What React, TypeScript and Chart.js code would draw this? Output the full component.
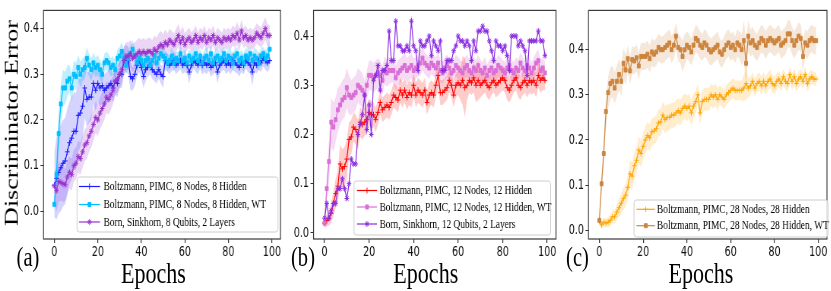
import React, { useEffect, useRef } from "react";
import { Chart, registerables } from "chart.js";
import { drawPoint } from "chart.js/helpers";

Chart.register(...registerables);

// ---------- data ----------
const EPOCHS = Array.from({ length: 100 }, (_, i) => i);
const X_TICKS = [0, 20, 40, 60, 80, 100];
const Y_TICKS = [0, 0.1, 0.2, 0.3, 0.4];

// Panel (a)
const BOLTZ8 = [
  0.057, 0.072, 0.085, 0.095, 0.105, 0.11, 0.13, 0.15, 0.16, 0.175,
  0.175, 0.21, 0.215, 0.23, 0.27, 0.245, 0.25, 0.25, 0.28, 0.265,
  0.28, 0.27, 0.275, 0.265, 0.27, 0.275, 0.28, 0.27, 0.285, 0.28,
  0.3, 0.3, 0.33, 0.335, 0.33, 0.295, 0.29, 0.3, 0.32, 0.33,
  0.315, 0.295, 0.31, 0.315, 0.32, 0.31, 0.305, 0.3, 0.31, 0.3,
  0.295, 0.33, 0.325, 0.32, 0.325, 0.33, 0.32, 0.325, 0.33, 0.32,
  0.325, 0.32, 0.305, 0.32, 0.33, 0.325, 0.32, 0.33, 0.32, 0.325,
  0.32, 0.325, 0.315, 0.32, 0.325, 0.305, 0.32, 0.325, 0.33, 0.32,
  0.325, 0.32, 0.33, 0.325, 0.32, 0.315, 0.325, 0.32, 0.33, 0.325,
  0.32, 0.305, 0.325, 0.32, 0.33, 0.325, 0.335, 0.33, 0.325, 0.33,
];
const BOLTZ8_STD = [
  0.07, 0.09, 0.09, 0.095, 0.095, 0.095, 0.095, 0.09, 0.09, 0.085,
  0.085, 0.08, 0.075, 0.07, 0.065, 0.06, 0.055, 0.05, 0.045, 0.045,
  0.04, 0.04, 0.04, 0.035, 0.035, 0.035, 0.035, 0.03, 0.03, 0.03,
  0.03, 0.03, 0.03, 0.03, 0.03, 0.03, 0.025, 0.025, 0.025, 0.025,
  0.025, 0.025, 0.025, 0.02, 0.02, 0.02, 0.02, 0.02, 0.02, 0.02,
  0.025, 0.02, 0.02, 0.02, 0.018, 0.02, 0.02, 0.018, 0.02, 0.02,
  0.02, 0.02, 0.025, 0.02, 0.018, 0.02, 0.02, 0.018, 0.02, 0.02,
  0.02, 0.018, 0.02, 0.02, 0.02, 0.025, 0.02, 0.018, 0.02, 0.02,
  0.018, 0.02, 0.02, 0.02, 0.018, 0.02, 0.02, 0.02, 0.018, 0.02,
  0.02, 0.03, 0.02, 0.018, 0.02, 0.02, 0.018, 0.02, 0.02, 0.018,
];
const BOLTZ8_WT = [
  0.015, 0.08, 0.17, 0.235, 0.27, 0.27, 0.285, 0.29, 0.27, 0.3,
  0.295, 0.315, 0.3, 0.31, 0.315, 0.335, 0.32, 0.31, 0.325, 0.315,
  0.32, 0.31, 0.3, 0.325, 0.33, 0.325, 0.315, 0.32, 0.31, 0.335,
  0.34, 0.35, 0.335, 0.32, 0.335, 0.345, 0.355, 0.34, 0.325, 0.335,
  0.33, 0.32, 0.33, 0.335, 0.32, 0.33, 0.34, 0.325, 0.335, 0.345,
  0.34, 0.335, 0.325, 0.33, 0.34, 0.325, 0.335, 0.33, 0.345, 0.33,
  0.335, 0.325, 0.34, 0.33, 0.335, 0.345, 0.33, 0.34, 0.325, 0.335,
  0.34, 0.33, 0.345, 0.325, 0.335, 0.34, 0.33, 0.335, 0.345, 0.33,
  0.34, 0.335, 0.325, 0.34, 0.345, 0.33, 0.335, 0.325, 0.34, 0.335,
  0.345, 0.33, 0.34, 0.335, 0.325, 0.34, 0.345, 0.335, 0.34, 0.355,
];
const BOLTZ8_WT_STD = [
  0.02, 0.035, 0.045, 0.045, 0.04, 0.035, 0.035, 0.03, 0.03, 0.03,
  0.03, 0.028, 0.028, 0.025, 0.025, 0.025, 0.025, 0.025, 0.022, 0.022,
  0.022, 0.022, 0.022, 0.02, 0.02, 0.02, 0.02, 0.02, 0.02, 0.02,
  0.02, 0.02, 0.02, 0.02, 0.02, 0.02, 0.02, 0.018, 0.018, 0.018,
  0.018, 0.018, 0.02, 0.018, 0.015, 0.018, 0.018, 0.02, 0.018, 0.018,
  0.018, 0.015, 0.018, 0.018, 0.02, 0.018, 0.015, 0.018, 0.018, 0.02,
  0.018, 0.018, 0.015, 0.018, 0.02, 0.018, 0.018, 0.015, 0.018, 0.018,
  0.02, 0.018, 0.018, 0.015, 0.018, 0.018, 0.02, 0.018, 0.015, 0.018,
  0.018, 0.02, 0.018, 0.018, 0.015, 0.018, 0.018, 0.02, 0.018, 0.018,
  0.015, 0.018, 0.018, 0.02, 0.018, 0.018, 0.015, 0.018, 0.018, 0.02,
];
const BORN8 = [
  0.055, 0.045, 0.065, 0.063, 0.06, 0.058, 0.075, 0.085, 0.08, 0.1,
  0.105, 0.12, 0.115, 0.13, 0.145, 0.15, 0.165, 0.175, 0.19, 0.205,
  0.2, 0.215, 0.225, 0.235, 0.25, 0.245, 0.255, 0.265, 0.285, 0.29,
  0.3, 0.31, 0.33, 0.34, 0.34, 0.345, 0.335, 0.34, 0.345, 0.35,
  0.345, 0.35, 0.345, 0.35, 0.35, 0.345, 0.355, 0.35, 0.36, 0.365,
  0.36, 0.37, 0.365, 0.375, 0.37, 0.365, 0.375, 0.385, 0.37, 0.38,
  0.365, 0.375, 0.38, 0.37, 0.375, 0.385, 0.37, 0.38, 0.375, 0.385,
  0.37, 0.38, 0.375, 0.385, 0.37, 0.38, 0.375, 0.37, 0.38, 0.375,
  0.38, 0.375, 0.385, 0.38, 0.39, 0.375, 0.395, 0.38, 0.385, 0.375,
  0.38, 0.375, 0.38, 0.39, 0.385, 0.38, 0.39, 0.4, 0.385, 0.385,
];
const BORN8_STD = [
  0.035, 0.045, 0.045, 0.04, 0.04, 0.035, 0.035, 0.035, 0.035, 0.035,
  0.035, 0.035, 0.035, 0.035, 0.035, 0.035, 0.035, 0.035, 0.035, 0.035,
  0.035, 0.035, 0.035, 0.035, 0.035, 0.033, 0.033, 0.03, 0.03, 0.03,
  0.03, 0.03, 0.03, 0.03, 0.03, 0.03, 0.03, 0.03, 0.03, 0.03,
  0.03, 0.03, 0.03, 0.03, 0.03, 0.03, 0.03, 0.03, 0.03, 0.03,
  0.028, 0.028, 0.025, 0.025, 0.025, 0.025, 0.025, 0.025, 0.025, 0.025,
  0.025, 0.022, 0.022, 0.022, 0.022, 0.022, 0.022, 0.022, 0.022, 0.022,
  0.022, 0.022, 0.022, 0.022, 0.022, 0.022, 0.022, 0.022, 0.022, 0.022,
  0.022, 0.022, 0.022, 0.022, 0.025, 0.025, 0.025, 0.022, 0.022, 0.022,
  0.022, 0.022, 0.022, 0.022, 0.022, 0.022, 0.025, 0.025, 0.025, 0.022,
];

// Panel (b)
const BOLTZ12 = [
  0.02, 0.025, 0.03, 0.04, 0.06, 0.08, 0.095, 0.14, 0.13, 0.135,
  0.15, 0.19, 0.195, 0.215, 0.21, 0.2, 0.225, 0.22, 0.225, 0.23,
  0.245, 0.24, 0.24, 0.23, 0.245, 0.265, 0.25, 0.255, 0.26, 0.255,
  0.265, 0.28, 0.275, 0.27, 0.29, 0.28, 0.29, 0.275, 0.285, 0.28,
  0.3, 0.28, 0.29, 0.285, 0.28, 0.29, 0.265, 0.28, 0.285, 0.28,
  0.3, 0.32, 0.285, 0.285, 0.29, 0.295, 0.31, 0.3, 0.28, 0.3,
  0.305, 0.3, 0.31, 0.295, 0.3, 0.31, 0.305, 0.315, 0.3, 0.31,
  0.3, 0.305, 0.31, 0.3, 0.295, 0.305, 0.31, 0.3, 0.305, 0.31,
  0.315, 0.31, 0.295, 0.29, 0.3, 0.31, 0.315, 0.3, 0.295, 0.305,
  0.31, 0.3, 0.31, 0.305, 0.31, 0.3, 0.32, 0.31, 0.315, 0.31,
];
const BOLTZ12_STD = [
  0.01, 0.012, 0.015, 0.02, 0.025, 0.03, 0.035, 0.04, 0.04, 0.04,
  0.04, 0.035, 0.035, 0.03, 0.03, 0.03, 0.03, 0.03, 0.028, 0.028,
  0.028, 0.028, 0.025, 0.025, 0.025, 0.025, 0.025, 0.025, 0.025, 0.025,
  0.025, 0.025, 0.025, 0.025, 0.025, 0.025, 0.025, 0.025, 0.025, 0.025,
  0.025, 0.025, 0.025, 0.025, 0.025, 0.025, 0.025, 0.025, 0.025, 0.025,
  0.025, 0.025, 0.025, 0.025, 0.025, 0.025, 0.025, 0.025, 0.025, 0.025,
  0.025, 0.03, 0.05, 0.06, 0.03, 0.025, 0.025, 0.03, 0.035, 0.04,
  0.025, 0.025, 0.025, 0.025, 0.025, 0.025, 0.025, 0.025, 0.025, 0.025,
  0.025, 0.025, 0.025, 0.025, 0.025, 0.025, 0.025, 0.025, 0.025, 0.025,
  0.025, 0.025, 0.025, 0.025, 0.025, 0.025, 0.025, 0.025, 0.025, 0.02,
];
const BOLTZ12_WT = [
  0.02, 0.09, 0.145, 0.225, 0.215, 0.23, 0.25, 0.26, 0.27, 0.275,
  0.295, 0.28, 0.275, 0.28, 0.285, 0.3, 0.295, 0.29, 0.28, 0.3,
  0.32, 0.32, 0.315, 0.32, 0.325, 0.32, 0.31, 0.33, 0.325, 0.33,
  0.33, 0.33, 0.315, 0.325, 0.33, 0.335, 0.34, 0.33, 0.335, 0.34,
  0.33, 0.335, 0.34, 0.345, 0.355, 0.345, 0.34, 0.335, 0.345, 0.34,
  0.335, 0.345, 0.33, 0.325, 0.335, 0.34, 0.335, 0.325, 0.33, 0.34,
  0.335, 0.33, 0.325, 0.335, 0.34, 0.33, 0.325, 0.335, 0.33, 0.34,
  0.33, 0.325, 0.335, 0.32, 0.33, 0.335, 0.325, 0.33, 0.34, 0.335,
  0.33, 0.325, 0.335, 0.34, 0.33, 0.325, 0.335, 0.33, 0.345, 0.335,
  0.33, 0.34, 0.335, 0.325, 0.335, 0.345, 0.35, 0.33, 0.335, 0.325,
];
const BOLTZ12_WT_STD = [
  0.01, 0.025, 0.045, 0.05, 0.05, 0.045, 0.045, 0.04, 0.04, 0.04,
  0.04, 0.04, 0.035, 0.035, 0.035, 0.035, 0.035, 0.035, 0.03, 0.03,
  0.03, 0.03, 0.03, 0.03, 0.03, 0.03, 0.03, 0.028, 0.028, 0.028,
  0.025, 0.025, 0.025, 0.025, 0.025, 0.025, 0.025, 0.025, 0.025, 0.025,
  0.025, 0.022, 0.022, 0.025, 0.025, 0.022, 0.022, 0.022, 0.022, 0.022,
  0.022, 0.022, 0.022, 0.022, 0.022, 0.022, 0.022, 0.022, 0.022, 0.022,
  0.022, 0.022, 0.022, 0.022, 0.022, 0.022, 0.022, 0.022, 0.022, 0.022,
  0.022, 0.022, 0.022, 0.022, 0.022, 0.022, 0.022, 0.022, 0.022, 0.022,
  0.022, 0.022, 0.022, 0.022, 0.022, 0.022, 0.022, 0.022, 0.022, 0.022,
  0.022, 0.022, 0.022, 0.022, 0.022, 0.022, 0.022, 0.022, 0.022, 0.022,
];
const BORN12 = [
  0.03, 0.06, 0.03, 0.045, 0.06, 0.06, 0.09, 0.09, 0.11, 0.09,
  0.07, 0.1, 0.15, 0.14, 0.14, 0.2, 0.22, 0.24, 0.28, 0.21,
  0.26, 0.2, 0.31, 0.32, 0.34, 0.29, 0.33, 0.33, 0.34, 0.41,
  0.35, 0.35, 0.43, 0.38, 0.38, 0.37, 0.37, 0.38, 0.37, 0.43,
  0.38, 0.37, 0.33, 0.39, 0.38, 0.38, 0.39, 0.4, 0.36, 0.39,
  0.38, 0.37, 0.39, 0.33, 0.33, 0.35, 0.35, 0.35, 0.37, 0.38,
  0.4, 0.39, 0.39, 0.38, 0.39, 0.38, 0.35, 0.39, 0.37, 0.41,
  0.41, 0.42, 0.41, 0.41, 0.39, 0.37, 0.35, 0.39, 0.38, 0.38,
  0.37, 0.38, 0.36, 0.33, 0.4, 0.4, 0.4, 0.38, 0.39, 0.38,
  0.37, 0.32, 0.39, 0.39, 0.39, 0.39, 0.41, 0.39, 0.39, 0.36,
];

// Panel (c)
const BOLTZ28 = [
  0.02, 0.012, 0.018, 0.016, 0.018, 0.022, 0.03, 0.03, 0.04, 0.05,
  0.06, 0.07, 0.078, 0.095, 0.125, 0.12, 0.143, 0.155, 0.178, 0.17,
  0.186, 0.2, 0.21, 0.205, 0.218, 0.22, 0.225, 0.238, 0.24, 0.255,
  0.245, 0.25, 0.25, 0.255, 0.255, 0.26, 0.265, 0.26, 0.27, 0.275,
  0.27, 0.275, 0.26, 0.275, 0.285, 0.3, 0.26, 0.285, 0.29, 0.29,
  0.29, 0.3, 0.295, 0.3, 0.29, 0.3, 0.295, 0.29, 0.3, 0.305,
  0.31, 0.315, 0.31, 0.31, 0.31, 0.31, 0.315, 0.325, 0.315, 0.32,
  0.33, 0.315, 0.325, 0.33, 0.32, 0.33, 0.32, 0.33, 0.335, 0.325,
  0.32, 0.33, 0.335, 0.325, 0.34, 0.33, 0.325, 0.345, 0.33, 0.34,
  0.325, 0.335, 0.34, 0.33, 0.345, 0.325, 0.335, 0.34, 0.335, 0.335,
];
const BOLTZ28_STD = [
  0.008, 0.008, 0.01, 0.01, 0.012, 0.012, 0.015, 0.015, 0.018, 0.02,
  0.022, 0.025, 0.025, 0.028, 0.03, 0.03, 0.03, 0.03, 0.03, 0.03,
  0.03, 0.03, 0.03, 0.03, 0.03, 0.03, 0.03, 0.03, 0.03, 0.03,
  0.03, 0.03, 0.028, 0.028, 0.028, 0.028, 0.028, 0.028, 0.028, 0.028,
  0.028, 0.028, 0.028, 0.028, 0.025, 0.025, 0.025, 0.025, 0.025, 0.025,
  0.025, 0.025, 0.025, 0.025, 0.025, 0.022, 0.022, 0.022, 0.022, 0.022,
  0.022, 0.022, 0.022, 0.022, 0.022, 0.022, 0.03, 0.035, 0.022, 0.02,
  0.02, 0.02, 0.02, 0.02, 0.02, 0.02, 0.02, 0.02, 0.02, 0.02,
  0.02, 0.018, 0.018, 0.018, 0.018, 0.018, 0.018, 0.018, 0.018, 0.018,
  0.018, 0.018, 0.018, 0.018, 0.018, 0.018, 0.018, 0.015, 0.015, 0.015,
];
const BOLTZ28_WT = [
  0.022, 0.103, 0.17, 0.263, 0.305, 0.325, 0.33, 0.315, 0.33, 0.345,
  0.33, 0.37, 0.355, 0.38, 0.353, 0.378, 0.375, 0.382, 0.364, 0.385,
  0.385, 0.385, 0.39, 0.38, 0.395, 0.39, 0.395, 0.405, 0.4, 0.4,
  0.405, 0.41, 0.415, 0.4, 0.41, 0.43, 0.405, 0.4, 0.385, 0.4,
  0.41, 0.405, 0.395, 0.41, 0.425, 0.42, 0.41, 0.405, 0.415, 0.41,
  0.4, 0.395, 0.4, 0.405, 0.41, 0.395, 0.39, 0.4, 0.41, 0.415,
  0.405, 0.41, 0.4, 0.415, 0.41, 0.4, 0.42, 0.37, 0.43, 0.415,
  0.42, 0.41, 0.405, 0.415, 0.425, 0.42, 0.41, 0.42, 0.425, 0.42,
  0.415, 0.42, 0.425, 0.41, 0.415, 0.42, 0.435, 0.435, 0.42, 0.41,
  0.42, 0.43, 0.425, 0.385, 0.415, 0.41, 0.42, 0.425, 0.42, 0.42,
];
const BOLTZ28_WT_STD = [
  0.01, 0.02, 0.03, 0.035, 0.035, 0.035, 0.035, 0.035, 0.035, 0.035,
  0.033, 0.033, 0.033, 0.03, 0.03, 0.03, 0.03, 0.03, 0.03, 0.03,
  0.03, 0.03, 0.03, 0.03, 0.03, 0.03, 0.03, 0.03, 0.03, 0.03,
  0.03, 0.03, 0.03, 0.03, 0.03, 0.03, 0.03, 0.03, 0.035, 0.035,
  0.03, 0.03, 0.03, 0.03, 0.03, 0.03, 0.03, 0.03, 0.03, 0.03,
  0.03, 0.03, 0.03, 0.03, 0.03, 0.03, 0.03, 0.03, 0.03, 0.03,
  0.03, 0.03, 0.03, 0.03, 0.03, 0.035, 0.045, 0.05, 0.035, 0.03,
  0.03, 0.03, 0.03, 0.03, 0.03, 0.03, 0.03, 0.03, 0.03, 0.03,
  0.03, 0.03, 0.03, 0.03, 0.03, 0.03, 0.03, 0.03, 0.03, 0.03,
  0.03, 0.03, 0.03, 0.035, 0.03, 0.03, 0.03, 0.03, 0.03, 0.03,
];

// ---------- layout / style ----------
const S = 0.76; // horizontal compression of the original figure
const H = 291;
const TICK_FONT = '"DejaVu Sans Condensed", "Liberation Sans", sans-serif';
const SERIF = '"Liberation Serif", "Times New Roman", serif';

type Series = {
  label: string;
  mean: number[];
  std: number[] | null;
  color: string;
  band: string;
  marker: string;
  radius: number;
};

type PanelCfg = {
  tag: string;
  wrapLeft: number;
  wrapWidth: number;
  plotLeft: number;
  plotRight: number;
  plotTop: number;
  plotBottom: number;
  yMin: number;
  yMax: number;
  series: Series[];
  legend: { left: number; top: number; right: number; bottom: number; rows: number[]; lineX0: number; lineX1: number; textX: number };
  tagX: number;
  epochsX: number;
  yTitle: boolean;
};

const PANELS: PanelCfg[] = [
  {
    tag: "(a)",
    wrapLeft: 0,
    wrapWidth: 290,
    plotLeft: 43.5,
    plotRight: 280.5,
    plotTop: 0.5,
    plotBottom: 239,
    yMin: -0.061,
    yMax: 0.44,
    series: [
      { label: "Boltzmann, PIMC, 8 Nodes, 8 Hidden", mean: BOLTZ8, std: BOLTZ8_STD, color: "#1a1aff", band: "rgba(40,40,255,0.2)", marker: "cross", radius: 3 },
      { label: "Boltzmann, PIMC, 8 Nodes, 8 Hidden, WT", mean: BOLTZ8_WT, std: BOLTZ8_WT_STD, color: "#00bfff", band: "rgba(0,191,255,0.25)", marker: "rect", radius: 2.8 },
      { label: "Born, Sinkhorn, 8 Qubits, 2 Layers", mean: BORN8, std: BORN8_STD, color: "#9932cc", band: "rgba(153,50,204,0.2)", marker: "star", radius: 3 },
    ],
    legend: { left: 77, top: 177, right: 278, bottom: 232, rows: [186.5, 204.5, 222], lineX0: 79, lineX1: 100, textX: 103.5 },
    tagX: 28,
    epochsX: 153.5,
    yTitle: true,
  },
  {
    tag: "(b)",
    wrapLeft: 288,
    wrapWidth: 276,
    plotLeft: 313.5,
    plotRight: 556,
    plotTop: 1.5,
    plotBottom: 239,
    yMin: -0.0123,
    yMax: 0.452,
    series: [
      { label: "Boltzmann, PIMC, 12 Nodes, 12 Hidden", mean: BOLTZ12, std: BOLTZ12_STD, color: "#ff0000", band: "rgba(255,0,0,0.2)", marker: "cross", radius: 3 },
      { label: "Boltzmann, PIMC, 12 Nodes, 12 Hidden, WT", mean: BOLTZ12_WT, std: BOLTZ12_WT_STD, color: "#da70d6", band: "rgba(218,112,214,0.25)", marker: "rect", radius: 2.8 },
      { label: "Born, Sinkhorn, 12 Qubits, 2 Layers", mean: BORN12, std: null, color: "#8a2be2", band: "rgba(138,43,226,0.2)", marker: "star", radius: 3 },
    ],
    legend: { left: 354, top: 181, right: 550.5, bottom: 235, rows: [190.5, 207, 224], lineX0: 357, lineX1: 377, textX: 379.5 },
    tagX: 303,
    epochsX: 425.8,
    yTitle: false,
  },
  {
    tag: "(c)",
    wrapLeft: 564,
    wrapWidth: 267,
    plotLeft: 588.5,
    plotRight: 830,
    plotTop: 2.5,
    plotBottom: 239,
    yMin: -0.0193,
    yMax: 0.487,
    series: [
      { label: "Boltzmann, PIMC, 28 Nodes, 28 Hidden", mean: BOLTZ28, std: BOLTZ28_STD, color: "#ffa500", band: "rgba(255,165,0,0.2)", marker: "cross", radius: 2.8 },
      { label: "Boltzmann, PIMC, 28 Nodes, 28 Hidden, WT", mean: BOLTZ28_WT, std: BOLTZ28_WT_STD, color: "#cd853f", band: "rgba(205,133,63,0.2)", marker: "rect", radius: 2.8 },
    ],
    legend: { left: 634, top: 200, right: 828, bottom: 237, rows: [209.3, 225.7], lineX0: 636.5, lineX1: 655, textX: 657 },
    tagX: 577.5,
    epochsX: 701,
    yTitle: false,
  },
];

function Panel({ p }: { p: PanelCfg }) {
  const ref = useRef<HTMLCanvasElement | null>(null);
  const cw = Math.round(p.wrapWidth / S);
  const toIn = (x: number) => (x - p.wrapLeft) / S;

  useEffect(() => {
    const canvas = ref.current;
    if (!canvas) return;
    const areaL = toIn(p.plotLeft);
    const areaR = toIn(p.plotRight);
    const n = p.series.length;

    const datasets: any[] = [];
    p.series.forEach((s, k) => {
      datasets.push({
        label: s.label,
        data: EPOCHS.map((e, i) => ({ x: e, y: s.mean[i] })),
        borderColor: s.color,
        backgroundColor: s.color,
        borderWidth: 1.2,
        pointStyle: s.marker,
        pointRadius: s.radius,
        pointBorderWidth: 1,
        pointBackgroundColor: s.color,
        pointBorderColor: s.color,
        fill: false,
        tension: 0,
        order: n - k,
      });
    });
    p.series.forEach((s) => {
      if (!s.std) return;
      const std = s.std;
      datasets.push({
        label: s.label + " upper",
        data: EPOCHS.map((e, i) => ({ x: e, y: s.mean[i] + std[i] })),
        borderColor: "rgba(0,0,0,0)",
        borderWidth: 0,
        pointRadius: 0,
        fill: false,
        order: 20,
      });
      datasets.push({
        label: s.label + " lower",
        data: EPOCHS.map((e, i) => ({ x: e, y: s.mean[i] - std[i] })),
        borderColor: "rgba(0,0,0,0)",
        borderWidth: 0,
        pointRadius: 0,
        fill: "-1",
        backgroundColor: s.band,
        order: 20,
      });
    });

    const framePlugin = {
      id: "frameLegend",
      afterDatasetsDraw(chart: any) {
        const { ctx, chartArea: a } = chart;
        ctx.save();
        ctx.strokeStyle = "#3a3a3a";
        ctx.lineWidth = 1.2;
        ctx.strokeRect(a.left, a.top, a.right - a.left, a.bottom - a.top);

        const L = p.legend;
        const lx = toIn(L.left);
        const rx = toIn(L.right);
        ctx.beginPath();
        if ((ctx as any).roundRect) {
          (ctx as any).roundRect(lx, L.top, rx - lx, L.bottom - L.top, 3);
        } else {
          ctx.rect(lx, L.top, rx - lx, L.bottom - L.top);
        }
        ctx.fillStyle = "rgba(255,255,255,0.8)";
        ctx.fill();
        ctx.strokeStyle = "#cccccc";
        ctx.lineWidth = 1;
        ctx.stroke();

        p.series.forEach((s, k) => {
          const y = L.rows[k];
          const x0 = toIn(L.lineX0);
          const x1 = toIn(L.lineX1);
          ctx.strokeStyle = s.color;
          ctx.fillStyle = s.color;
          ctx.lineWidth = 1.2;
          ctx.beginPath();
          ctx.moveTo(x0, y);
          ctx.lineTo(x1, y);
          ctx.stroke();
          ctx.lineWidth = 1;
          drawPoint(ctx, { pointStyle: s.marker as any, rotation: 0, radius: s.radius, borderWidth: 1 } as any, (x0 + x1) / 2, y);
          ctx.fillStyle = "#000";
          ctx.font = `12.3px ${SERIF}`;
          ctx.textBaseline = "middle";
          ctx.textAlign = "left";
          ctx.fillText(s.label, toIn(L.textX), y + 0.5);
        });
        ctx.restore();
      },
    };

    const chart = new Chart(canvas, {
      type: "line",
      data: { datasets },
      options: {
        animation: false,
        responsive: false,
        devicePixelRatio: 1,
        layout: { padding: { left: 0, right: cw - areaR, top: p.plotTop, bottom: 0 } },
        plugins: { legend: { display: false }, tooltip: { enabled: false } },
        events: [],
        scales: {
          x: {
            type: "linear",
            min: -4.95,
            max: 103.95,
            afterBuildTicks: (sc: any) => {
              sc.ticks = X_TICKS.map((v) => ({ value: v }));
            },
            afterFit: (sc: any) => {
              sc.height = H - p.plotBottom;
            },
            grid: { drawOnChartArea: false, drawTicks: true, tickLength: 4, color: "#333", lineWidth: 1.2 },
            border: { display: false },
            ticks: {
              autoSkip: false,
              maxRotation: 0,
              padding: 1,
              color: "#111",
              font: { family: TICK_FONT, size: 14 },
              callback: (v: any) => String(v),
            },
          },
          y: {
            type: "linear",
            min: p.yMin,
            max: p.yMax,
            afterBuildTicks: (sc: any) => {
              sc.ticks = Y_TICKS.map((v) => ({ value: v }));
            },
            afterFit: (sc: any) => {
              sc.width = areaL;
            },
            grid: { drawOnChartArea: false, drawTicks: true, tickLength: 4, color: "#333", lineWidth: 1 },
            border: { display: false },
            ticks: {
              autoSkip: false,
              padding: 2,
              color: "#111",
              font: { family: TICK_FONT, size: 14 },
              callback: (v: any) => Number(v).toFixed(1),
            },
          },
        },
      },
      plugins: [framePlugin],
    } as any);

    return () => chart.destroy();
  }, []);

  const epochsFont = 29;
  const tagFont = 27;
  return (
    <div
      style={{
        position: "absolute",
        left: p.wrapLeft,
        top: 0,
        width: cw,
        height: H,
        transform: `scaleX(${S})`,
        transformOrigin: "0 0",
      }}
    >
      <canvas ref={ref} width={cw} height={H} style={{ position: "absolute", left: 0, top: 0, display: "block" }} />
      <div
        style={{
          position: "absolute",
          left: toIn(p.epochsX) - 150,
          width: 300,
          top: 283 - 0.8375 * epochsFont,
          fontFamily: SERIF,
          fontSize: epochsFont,
          lineHeight: `${epochsFont}px`,
          textAlign: "center",
          color: "#000",
          whiteSpace: "nowrap",
        }}
      >
        Epochs
      </div>
      <div
        style={{
          position: "absolute",
          left: toIn(p.tagX) - 50,
          width: 100,
          top: 267 - 0.8375 * tagFont,
          fontFamily: SERIF,
          fontSize: tagFont,
          lineHeight: `${tagFont}px`,
          textAlign: "center",
          color: "#000",
          whiteSpace: "nowrap",
        }}
      >
        {p.tag}
      </div>
      {p.yTitle && (
        <div
          style={{
            position: "absolute",
            left: 12.5 / S,
            top: 122.5,
            width: 300,
            height: 26,
            fontFamily: SERIF,
            fontSize: 26,
            lineHeight: "26px",
            textAlign: "center",
            color: "#000",
            whiteSpace: "nowrap",
            transform: "translate(-50%, -50%) rotate(-90deg)",
          }}
        >
          Discriminator Error
        </div>
      )}
    </div>
  );
}

export default function App() {
  return (
    <div
      style={{
        position: "absolute",
        left: 0,
        top: 0,
        width: 831,
        height: H,
        background: "#fff",
        overflow: "hidden",
      }}
    >
      {PANELS.map((p) => (
        <Panel key={p.tag} p={p} />
      ))}
    </div>
  );
}
